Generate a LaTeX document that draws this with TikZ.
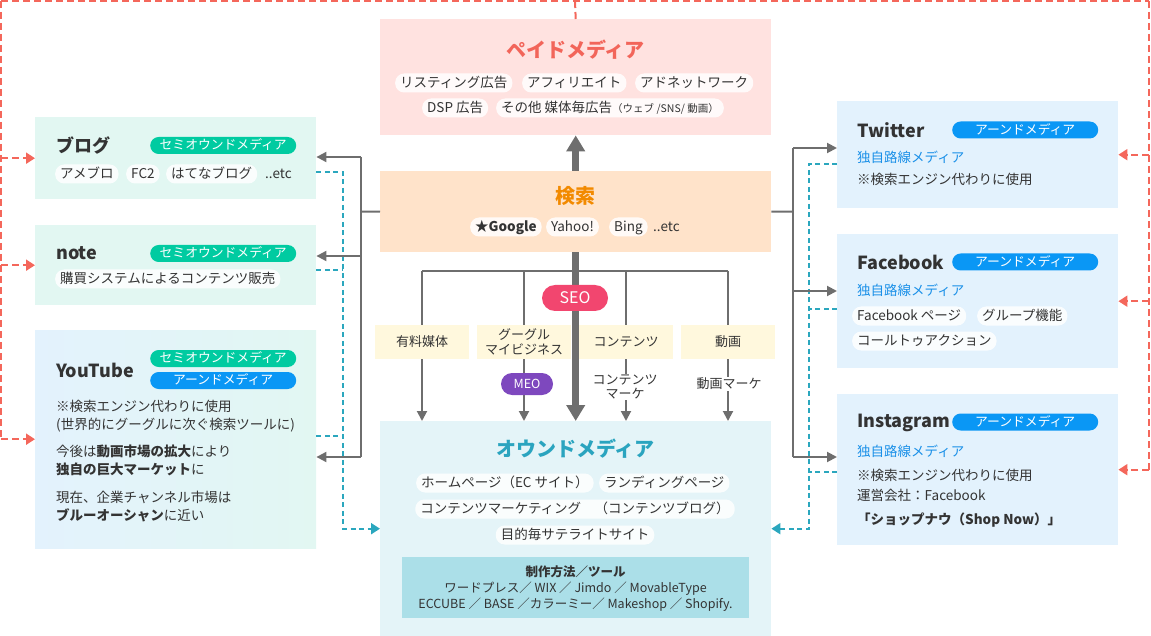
\documentclass[tikz,border=0pt]{standalone}
\usepackage{fontspec}
\setmainfont{Noto Sans CJK JP}
\usetikzlibrary{arrows.meta,positioning}
\definecolor{ink}{HTML}{333333}
\definecolor{grayln}{HTML}{6E6E6E}
\definecolor{redd}{HTML}{F4675B}
\definecolor{teald}{HTML}{2BA7BE}
\definecolor{paidbg}{HTML}{FFE2E0}
\definecolor{paidtx}{HTML}{F2655A}
\definecolor{srchbg}{HTML}{FFE3CA}
\definecolor{srchtx}{HTML}{F28A00}
\definecolor{ownbg}{HTML}{E4F4F8}
\definecolor{owntx}{HTML}{2AA4BF}
\definecolor{owninner}{HTML}{ABDFE8}
\definecolor{lblbg}{HTML}{FFF8DD}
\definecolor{semibg}{HTML}{E2F7F2}
\definecolor{earnbg}{HTML}{E3F2FD}
\definecolor{badgegreen}{HTML}{00CBA1}
\definecolor{badgeblue}{HTML}{0A97F5}
\definecolor{bluetx}{HTML}{1A90E8}
\definecolor{seocol}{HTML}{F2466F}
\definecolor{meocol}{HTML}{7E48BE}
\newcommand{\fsz}[1]{\fontsize{#1pt}{#1pt}\selectfont}
\tikzset{
  panel/.style={draw=none, inner sep=0, anchor=north west},
  txt/.style={inner sep=0, text height=11pt, text depth=2pt, font=\fsz{13.5}, text=ink},
  lt/.style={txt, anchor=west},
  ttl/.style={inner sep=0, anchor=west, font=\fsz{18}\bfseries, text=ink},
  ctitle/.style={inner sep=0, font=\fsz{20}\bfseries},
  pill/.style={txt, anchor=west, fill=white, fill opacity=0.85, text opacity=1, rounded corners=9pt, inner xsep=5pt, minimum height=19pt},
  badge/.style={anchor=west, text=white, rounded corners=8.5pt, minimum width=146pt, minimum height=17pt, inner sep=0, font=\fsz{12.8}, text height=10pt, text depth=1.5pt},
  lbl/.style={fill=lblbg, minimum width=94pt, minimum height=34pt, inner sep=0, align=center, font=\fontsize{13}{14.5}\selectfont, text=ink},
  gl/.style={draw=grayln, line width=2pt},
  gla/.style={gl, -{Triangle[length=10pt,width=10pt]}},
  thk/.style={draw=grayln, line width=7pt, -{Triangle[length=16pt,width=18pt]}},
  rd/.style={draw=redd, line width=2pt, dash pattern=on 7pt off 4pt},
  rda/.style={rd, -{Triangle[length=9pt,width=11pt]}},
  td/.style={draw=teald, line width=2pt, dash pattern=on 5pt off 3.5pt},
  tda/.style={td, -{Triangle[length=9pt,width=11pt]}},
}
\begin{document}
\begin{tikzpicture}[x=1pt,y=-1pt]
\useasboundingbox (0,0) rectangle (1151,636);

% ---------- panels ----------
\node[panel, fill=paidbg, minimum width=391pt, minimum height=116pt] (paid) at (380,19) {};
\node[panel, fill=srchbg, minimum width=391pt, minimum height=81pt] (search) at (380,171) {};
\node[panel, fill=ownbg, minimum width=391pt, minimum height=215pt] (owned) at (380,421) {};
\node[panel, fill=owninner, minimum width=347pt, minimum height=61pt] (tools) at (402,557) {};

\node[panel, fill=semibg, minimum width=281pt, minimum height=82pt] (blog) at (35,117) {};
\node[panel, fill=semibg, minimum width=281pt, minimum height=80pt] (note) at (35,225) {};
\node[panel, left color=earnbg, right color=semibg, minimum width=281pt, minimum height=218pt] (yt) at (35,330) {};

\node[panel, fill=earnbg, minimum width=281pt, minimum height=107pt] (tw) at (837,101) {};
\node[panel, fill=earnbg, minimum width=281pt, minimum height=134pt] (fb) at (837,234) {};
\node[panel, fill=earnbg, minimum width=281pt, minimum height=151pt] (ig) at (837,394) {};

% ---------- paid media ----------
\node[ctitle, text=paidtx] (paidT) at (575.5,50) {ペイドメディア};
\node[pill] (p1) at (395,83) {リスティング広告};
\node[pill] (p2) at (522,83) {アフィリエイト};
\node[pill] (p3) at (635,83) {アドネットワーク};
\node[pill] (p4) at (422,108) {DSP 広告};
\node[pill] (p5) at (496,108) {その他 媒体毎広告{\fsz{10.5}（ウェブ /SNS/ 動画）}};

% ---------- search ----------
\node[ctitle, text=srchtx] (searchT) at (575.5,196) {検索};
\node[pill, font=\fsz{13.5}\bfseries] (s1) at (470,227) {★Google};
\node[pill] (s2) at (546,227) {Yahoo!};
\node[pill] (s3) at (609,227) {Bing};
\node[lt] (s4) at (653,227) {..etc};

% ---------- owned ----------
\node[ctitle, text=owntx] (ownedT) at (575.5,449) {オウンドメディア};
\node[pill] (o1) at (416,483) {ホームページ（EC サイト）};
\node[pill] (o2) at (599,483) {ランディングページ};
\node[pill, anchor=center] (o3) at (575,509) {コンテンツマーケティング　（コンテンツブログ）};
\node[pill, anchor=center] (o4) at (575,535) {目的毎サテライトサイト};
\node[txt, font=\fsz{12.5}\bfseries] (t1) at (575.5,572) {制作方法／ツール};
\node[txt, font=\fsz{12.5}] (t2) at (575.5,588) {ワードプレス／ WIX ／ Jimdo ／ MovableType};
\node[txt, font=\fsz{12.5}] (t3) at (575.5,604) {ECCUBE ／ BASE ／カラーミー／ Makeshop ／ Shopify.};

% ---------- blog ----------
\node[ttl] (blogT) at (56,146) {ブログ};
\node[badge, fill=badgegreen] (blogB) at (150,145.5) {セミオウンドメディア};
\node[pill] (b1) at (55,174) {アメブロ};
\node[pill] (b2) at (126,174) {FC2};
\node[pill] (b3) at (166,174) {はてなブログ};
\node[lt] (b4) at (265,174) {..etc};

% ---------- note ----------
\node[ttl] (noteT) at (56,253) {note};
\node[badge, fill=badgegreen] (noteB) at (150,253.5) {セミオウンドメディア};
\node[pill] (n1) at (55,279) {購買システムによるコンテンツ販売};

% ---------- YouTube ----------
\node[ttl] (ytT) at (56,370) {YouTube};
\node[badge, fill=badgegreen] (ytB1) at (150,358.5) {セミオウンドメディア};
\node[badge, fill=badgeblue] (ytB2) at (150,380.5) {アーンドメディア};
\node[lt] (y1) at (56,407) {※検索エンジン代わりに使用};
\node[lt] (y2) at (56,425) {(世界的にグーグルに次ぐ検索ツールに)};
\node[lt] (y3) at (56,452) {今後は{\bfseries 動画市場の拡大}により};
\node[lt] (y4) at (56,470) {{\bfseries 独自の巨大マーケット}に};
\node[lt] (y5) at (56,498) {現在、企業チャンネル市場は};
\node[lt] (y6) at (56,516) {{\bfseries ブルーオーシャン}に近い};

% ---------- Twitter ----------
\node[ttl] (twT) at (857,130) {Twitter};
\node[badge, fill=badgeblue] (twB) at (952,130) {アーンドメディア};
\node[lt, text=bluetx] (tw1) at (857,158) {独自路線メディア};
\node[lt] (tw2) at (857,180) {※検索エンジン代わりに使用};

% ---------- Facebook ----------
\node[ttl] (fbT) at (857,262) {Facebook};
\node[badge, fill=badgeblue] (fbB) at (952,262) {アーンドメディア};
\node[lt, text=bluetx] (fb1) at (857,291) {独自路線メディア};
\node[pill] (fb2) at (852,316) {Facebook ページ};
\node[pill] (fb3) at (977,316) {グループ機能};
\node[pill] (fb4) at (852,341) {コールトゥアクション};

% ---------- Instagram ----------
\node[ttl] (igT) at (857,423) {Instagram};
\node[badge, fill=badgeblue] (igB) at (952,422) {アーンドメディア};
\node[lt, text=bluetx] (ig1) at (857,452) {独自路線メディア};
\node[lt] (ig2) at (857,476) {※検索エンジン代わりに使用};
\node[lt] (ig3) at (857,496) {運営会社：Facebook};
\node[lt, font=\fsz{13.5}\bfseries] (ig4) at (857,520) {「ショップナウ（Shop Now）」};

% ---------- SEO label boxes ----------
\node[lbl] (l1) at (422,342) {有料媒体};
\node[lbl] (l2) at (524,342) {グーグル\\マイビジネス};
\node[lbl] (l3) at (626,342) {コンテンツ};
\node[lbl] (l4) at (728,342) {動画};

% ---------- coordinates ----------
\coordinate (rt) at (575,1);
\coordinate (rl) at (1,1);
\coordinate (rr) at (1149,1);
\coordinate (lj) at (361,211.5);
\coordinate (ljt) at (361,157);
\coordinate (ljn) at (361,256);
\coordinate (ljb) at (361,457);
\coordinate (rj) at (793,211.5);
\coordinate (rjt) at (793,148);
\coordinate (rjf) at (793,291);
\coordinate (rjb) at (793,457);
\coordinate (tlb) at (343,172);
\coordinate (tln) at (343,270);
\coordinate (tly) at (343,436);
\coordinate (trt) at (809,164);
\coordinate (trf) at (809,309);
\coordinate (tri) at (809,472);
\coordinate (bar) at (0,271);

% ---------- red dashed ----------
\draw[rd] (paid.north) -- (rt);
\draw[rd] (rl) -- (rr);
\draw[rd] (rl) -- (rl |- yt.west);
\draw[rda] (rl |- blog.west) -- (blog.west);
\draw[rda] (rl |- note.west) -- (note.west);
\draw[rda] (rl |- yt.west) -- (yt.west);
\draw[rd] (rr) -- (rr |- ig.east);
\draw[rda] (rr |- tw.east) -- (tw.east);
\draw[rda] (rr |- fb.east) -- (fb.east);
\draw[rda] (rr |- ig.east) -- (ig.east);

% ---------- teal dashed ----------
\draw[tda] (blog.east |- tlb) -- (tlb) -- (tlb |- owned.west) -- (owned.west);
\draw[td] (note.east |- tln) -- (tln);
\draw[td] (yt.east |- tly) -- (tly);
\draw[tda] (tw.west |- trt) -- (trt) -- (trt |- owned.east) -- (owned.east);
\draw[td] (fb.west |- trf) -- (trf);
\draw[td] (ig.west |- tri) -- (tri);

% ---------- gray trees ----------
\draw[gl] (search.west) -- (lj);
\draw[gl] (ljt) -- (ljb);
\draw[gla] (ljt) -- (blog.east |- ljt);
\draw[gla] (ljn) -- (note.east |- ljn);
\draw[gla] (ljb) -- (yt.east |- ljb);
\draw[gl] (search.east) -- (rj);
\draw[gl] (rjt) -- (rjb);
\draw[gla] (rjt) -- (tw.west |- rjt);
\draw[gla] (rjf) -- (fb.west |- rjf);
\draw[gla] (rjb) -- (ig.west |- rjb);

% ---------- SEO branch ----------
\draw[gl] (l1.north |- bar) -- (l4.north |- bar);
\draw[gl] (l1.north |- bar) -- (l1.north);
\draw[gl] (l2.north |- bar) -- (l2.north);
\draw[gl] (l3.north |- bar) -- (l3.north);
\draw[gl] (l4.north |- bar) -- (l4.north);
\draw[gla] (l1.south) -- (l1.south |- owned.north);
\draw[gla] (l2.south) -- (l2.south |- owned.north);
\draw[gla] (l3.south) -- (l3.south |- owned.north);
\draw[gla] (l4.south) -- (l4.south |- owned.north);
\draw[thk] (search.north) -- (paid.south);
\draw[thk] (search.south) -- (owned.north);

\node[fill=seocol, text=white, rounded corners=13pt, minimum width=66pt, minimum height=26pt, inner sep=0, font=\fsz{16}] (seo) at (575,298) {SEO};
\node[fill=meocol, text=white, rounded corners=11pt, minimum width=52pt, minimum height=22pt, inner sep=0, font=\fsz{12.5}] (meo) at (527,384) {MEO};
\node[fill=white, inner sep=1pt, align=center, font=\fontsize{13}{14}\selectfont, text=ink] (cm) at (625,387) {コンテンツ\\マーケ};
\node[fill=white, inner sep=1pt, font=\fsz{13}, text=ink] (vm) at (729,384) {動画マーケ};
\end{tikzpicture}
\end{document}
